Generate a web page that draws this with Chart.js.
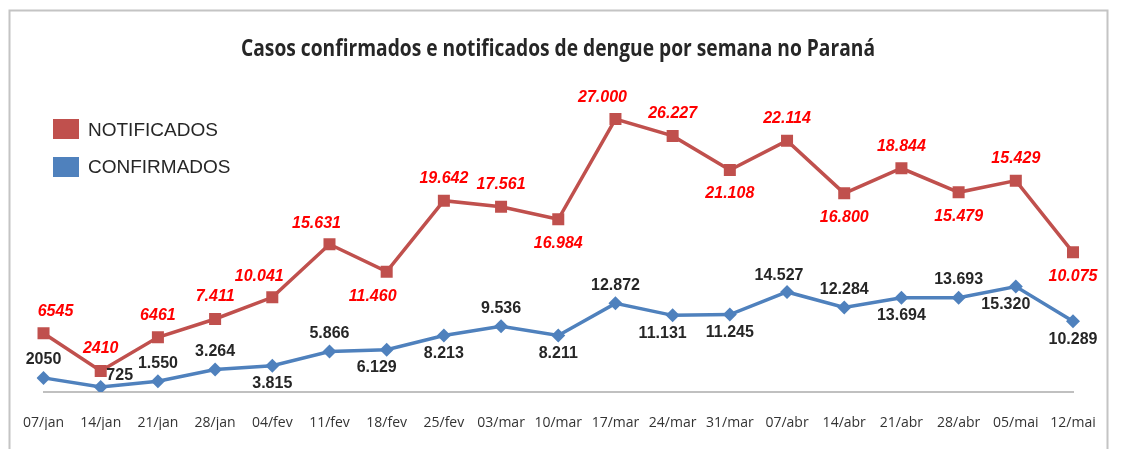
<!DOCTYPE html>
<html>
<head>
<meta charset="utf-8">
<script src="https://cdn.jsdelivr.net/npm/chart.js@4/dist/chart.umd.min.js"></script>
<style>
body{margin:0;background:#fff;}
canvas{display:block;}
</style>
</head>
<body>
<canvas id="grafico" width="1123" height="449"></canvas>
<script>
// semanas (eixo x)
const semanas=['07/jan','14/jan','21/jan','28/jan','04/fev','11/fev','18/fev','25/fev','03/mar','10/mar',
  '17/mar','24/mar','31/mar','07/abr','14/abr','21/abr','28/abr','05/mai','12/mai'];

// confirmados (eixo proprio, valores dos rotulos)
const confirmados=[2050,725,1550,3264,3815,5866,6129,8213,9536,8211,12872,11131,11245,14527,12284,13694,13693,15320,10289];
const rotulosConfirmados=['2050','725','1.550','3.264','3.815','5.866','6.129','8.213','9.536','8.211',
  '12.872','11.131','11.245','14.527','12.284','13.694','13.693','15.320','10.289'];

// notificados: altura lida da linha no grafico (os rotulos do original nao batem com a linha)
const notificados=[5830,2090,5430,7250,9400,14670,11950,19000,18400,17150,27110,25430,22050,24960,19730,22220,19830,20990,13870];
const rotulosNotificados=['6545','2410','6461','7.411','10.041','15.631','11.460','19.642','17.561','16.984',
  '27.000','26.227','21.108','22.114','16.800','18.844','15.479','15.429','10.075'];

// onde fica cada rotulo (t=acima, b=abaixo, l/r=deslocado)
const ladoNotif=['tr','t','t','t','tl','tl','bl','t','t','b','tl','t','b','t','b','t','b','t','b'];
const ladoConf=['t','r','t','t','b','t','bl','b','t','b','t','bl','b','tl','t','b','t','bl','b'];

const deslocNotif={t:[0,-22],b:[0,24],tl:[-13,-21],tr:[12,-22],bl:[-14,25]};
const deslocConf={t:[0,-18],b:[0,18],tl:[-8,-16],bl:[-10,18],r:[19,-11]};

const moldura={
  id:'moldura',
  beforeDraw(chart){
    const ctx=chart.ctx;
    ctx.save();
    ctx.fillStyle='#fff';
    ctx.fillRect(0,0,chart.width,chart.height);
    ctx.strokeStyle='#c4c4c4';
    ctx.lineWidth=2;
    ctx.beginPath();
    ctx.moveTo(9.5,449);ctx.lineTo(9.5,10.5);ctx.lineTo(1107.5,10.5);ctx.lineTo(1107.5,449);
    ctx.stroke();
    // titulo (comprimido na largura, como no original)
    ctx.fillStyle='#262626';
    ctx.font="bold 24px 'Open Sans', sans-serif";
    ctx.textAlign='center';
    ctx.textBaseline='alphabetic';
    ctx.fillText('Casos confirmados e notificados de dengue por semana no Paraná',558,56,634);
    // legenda
    ctx.textAlign='left';
    ctx.font="19px 'Liberation Sans', Arial, sans-serif";
    ctx.fillStyle='#c0504d';
    ctx.fillRect(53,119,26,20);
    ctx.fillStyle='#4f81bd';
    ctx.fillRect(53,157,26,20);
    ctx.fillStyle='#262626';
    ctx.fillText('NOTIFICADOS',88,136);
    ctx.fillText('CONFIRMADOS',88,173);
    ctx.restore();
  }
};

const rotulos={
  id:'rotulos',
  afterDatasetsDraw(chart){
    const ctx=chart.ctx;
    ctx.save();
    ctx.textAlign='center';
    ctx.textBaseline='middle';
    chart.data.datasets.forEach((ds,i)=>{
      const meta=chart.getDatasetMeta(i);
      ctx.font=ds.fonteRotulo;
      ctx.fillStyle=ds.corRotulo;
      meta.data.forEach((pt,j)=>{
        const d=ds.desloc[ds.lados[j]];
        ctx.fillText(ds.rotulos[j],pt.x+d[0],pt.y+d[1]);
      });
    });
    ctx.restore();
  }
};

new Chart(document.getElementById('grafico'),{
  type:'line',
  data:{
    labels:semanas,
    datasets:[{
      label:'CONFIRMADOS',
      data:confirmados,
      yAxisID:'yConf',
      borderColor:'#4f81bd',
      backgroundColor:'#4f81bd',
      borderWidth:3.5,
      pointStyle:'rectRot',
      pointRadius:7,
      pointBorderWidth:0,
      rotulos:rotulosConfirmados,
      lados:ladoConf,
      desloc:deslocConf,
      corRotulo:'#262626',
      fonteRotulo:"bold 16px 'Liberation Sans', Arial, sans-serif"
    },{
      label:'NOTIFICADOS',
      data:notificados,
      yAxisID:'yNotif',
      borderColor:'#c0504d',
      backgroundColor:'#c0504d',
      borderWidth:3.5,
      pointStyle:'rect',
      pointRadius:8.5,
      pointBorderWidth:0,
      rotulos:rotulosNotificados,
      lados:ladoNotif,
      desloc:deslocNotif,
      corRotulo:'#ff0000',
      fonteRotulo:"italic bold 16px 'Liberation Sans', Arial, sans-serif"
    }]
  },
  options:{
    responsive:false,
    animation:false,
    devicePixelRatio:1,
    layout:{padding:{top:100,left:36,right:50,bottom:19}},
    plugins:{legend:{display:false},title:{display:false},tooltip:{enabled:false}},
    scales:{
      x:{
        offset:false,
        grid:{display:false,drawTicks:false},
        border:{display:true,color:'#c0c0c0',width:2},
        ticks:{padding:23,color:'#333',font:{family:"'Open Sans', sans-serif",size:14}},
        afterFit(scale){ scale.height=38; }
      },
      yNotif:{display:false,min:0,max:29000},
      yConf:{display:false,min:0,max:42400}
    }
  },
  plugins:[moldura,rotulos]
});
</script>
</body>
</html>
